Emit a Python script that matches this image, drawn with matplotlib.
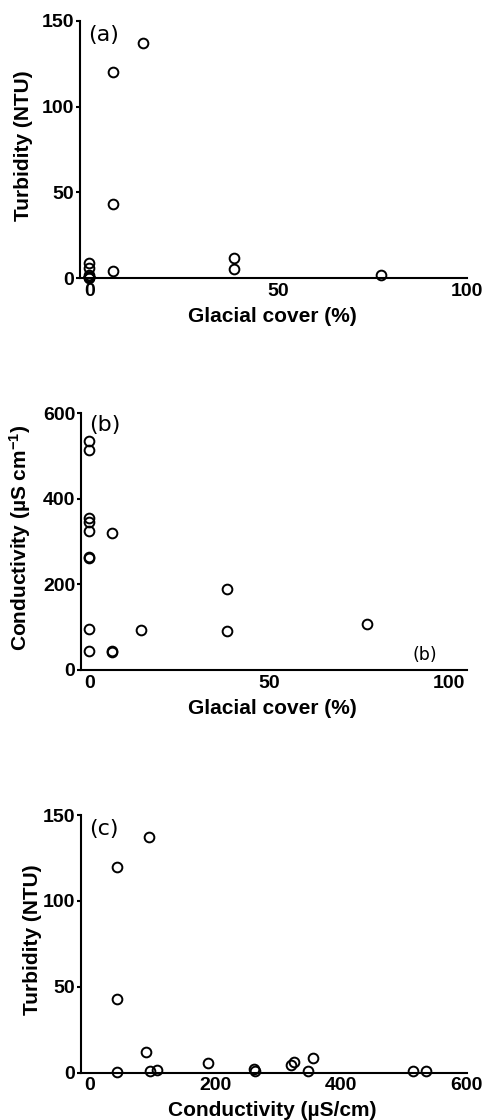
import matplotlib
matplotlib.use("Agg")
import matplotlib.pyplot as plt

plt.rcParams['font.family'] = ['Liberation Sans', 'DejaVu Sans']
plt.rcParams['mathtext.default'] = 'regular'

# Site data (shared by all panels)
glacial = [0, 0, 0, 0, 0, 0, 0, 0, 0, 6.3, 6.3, 6.3, 14.3, 38.3, 38.3, 77.2]
conductivity = [535, 514, 355, 347, 325, 263, 261, 96, 44, 320, 44, 43, 94, 189, 90, 108]
turbidity = [0.8, 0.8, 8.7, 0.6, 6.2, 1.0, 2.0, 1.0, 0.4, 4.4, 120, 43, 137, 5.6, 11.7, 1.7]

xticks_a = [0, 50, 100]
yticks_a = [0, 50, 100, 150]
xticks_b = [0, 50, 100]
yticks_b = [0, 200, 400, 600]
xticks_c = [0, 200, 400, 600]
yticks_c = [0, 50, 100, 150]

W, H = 484, 1120
fig = plt.figure(figsize=(W / 100, H / 100), dpi=100)

def add_axes(left, top, right, bottom):
    return fig.add_axes([left / W, 1 - bottom / H, (right - left) / W, (bottom - top) / H])

ax_a = add_axes(80, 20.7, 467, 278.3)
ax_b = add_axes(80.7, 413.3, 466.7, 670)
ax_c = add_axes(80.7, 815, 466.7, 1072.5)

def style(ax, xlim, ylim, xticks, yticks, xlabel, ylabel, ylab_x, panel, panel_y):
    ax.set_xlim(*xlim)
    ax.set_ylim(*ylim)
    ax.set_xticks(xticks)
    ax.set_yticks(yticks)
    for s in ['top', 'right']:
        ax.spines[s].set_visible(False)
    for s in ['left', 'bottom']:
        ax.spines[s].set_linewidth(1.5)
    ax.tick_params(axis='y', length=3, width=1.5, pad=1, labelsize=14)
    ax.tick_params(axis='x', length=0, pad=3.5, labelsize=14)
    for lab in ax.get_xticklabels() + ax.get_yticklabels():
        lab.set_fontweight('bold')
    ax.set_xlabel(xlabel, fontsize=15, fontweight='bold')
    ax.set_ylabel(ylabel, fontsize=15, fontweight='bold')
    ax.xaxis.set_label_coords(0.497, -0.112)
    ax.yaxis.set_label_coords(ylab_x, 0.515)
    ax.text(0.021, panel_y, panel, transform=ax.transAxes, ha='left', va='center',
            fontsize=16, family='DejaVu Sans')

mk = dict(linestyle='none', marker='o', markersize=7.0, markerfacecolor='none',
          markeredgecolor='black', markeredgewidth=1.4, clip_on=False, zorder=3)

ax_a.plot(glacial, turbidity, **mk)
style(ax_a, (-2.5, 100), (0, 150), xticks_a, yticks_a, 'Glacial cover (%)',
      'Turbidity (NTU)', -0.121, '(a)', 0.944)

ax_b.plot(glacial, conductivity, **mk)
style(ax_b, (-2.4, 105), (0, 600), xticks_b, yticks_b, 'Glacial cover (%)',
      r'Conductivity (µS cm$^{-1}$)', -0.124, '(b)', 0.954)
ax_b.text(93.4, 35, '(b)', ha='center', va='center', fontsize=12.5, family='DejaVu Sans')

ax_c.plot(conductivity, turbidity, **mk)
style(ax_c, (-14, 600), (0, 150), xticks_c, yticks_c, 'Conductivity (µS/cm)',
      'Turbidity (NTU)', -0.101, '(c)', 0.946)

fig.savefig('out.png', dpi=100)
